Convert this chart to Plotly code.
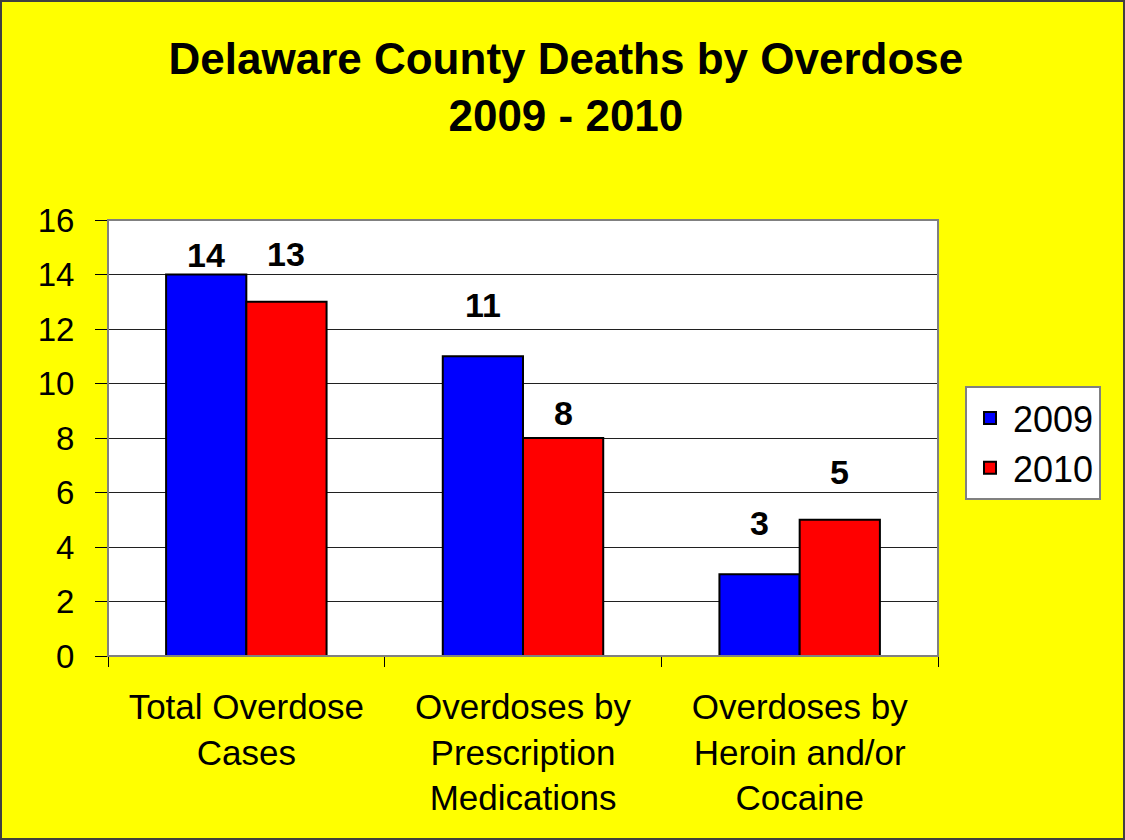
"""Delaware County overdose deaths, 2009 vs 2010, as a grouped bar chart."""

import plotly.graph_objects as go

# --- data -------------------------------------------------------------------
categories = [
    "Total Overdose<br>Cases",
    "Overdoses by<br>Prescription<br>Medications",
    "Overdoses by<br>Heroin and/or<br>Cocaine",
]
deaths_2009 = [14, 11, 3]
deaths_2010 = [13, 8, 5]
series_names = ["2009", "2010"]

# --- style --------------------------------------------------------------------
W, H = 1125, 840
L, R, T, B = 108, 187, 220, 184
PW, PH = W - L - R, H - T - B
FONT = "Liberation Sans, Arial, sans-serif"
YELLOW = "#FFFF00"
COLORS = ["#0000FF", "#FF0000"]
BARGAP = 0.42
bar_px = PW / len(categories) * (1 - BARGAP) / 2
# vertical lift of the value labels above each bar top (px), as in the source
label_lift = [[20, 51, 51], [48, 25, 48]]

fig = go.Figure()
for name, vals, color in zip(series_names, [deaths_2009, deaths_2010], COLORS):
    fig.add_trace(
        go.Bar(
            x=categories,
            y=vals,
            name=name,
            marker=dict(color=color, line=dict(color="black", width=2)),
        )
    )

# value labels
for s, vals in enumerate([deaths_2009, deaths_2010]):
    for i, v in enumerate(vals):
        fig.add_annotation(
            x=categories[i],
            y=v,
            text=f"<b>{v}</b>",
            showarrow=False,
            xshift=(s - 0.5) * bar_px,
            yshift=label_lift[s][i],
            yanchor="middle",
            font=dict(family=FONT, size=34, color="black"),
        )

# plot-area frame and outer chart border
fig.add_shape(type="rect", xref="paper", yref="paper", x0=0, x1=1, y0=0, y1=1,
              line=dict(color="#808080", width=2), layer="above")
fig.add_shape(type="rect", xref="paper", yref="paper",
              x0=-(L - 1) / PW, x1=(PW + R - 1) / PW,
              y0=-(B - 1) / PH, y1=(PH + T - 1) / PH,
              line=dict(color="#404040", width=2))

fig.update_layout(
    width=W,
    height=H,
    margin=dict(l=L, r=R, t=T, b=B, autoexpand=False),
    paper_bgcolor=YELLOW,
    plot_bgcolor="white",
    barmode="group",
    bargap=BARGAP,
    bargroupgap=0,
    font=dict(family=FONT, size=33, color="black"),
    title=dict(
        text="<b>Delaware County Deaths by Overdose<br>2009 - 2010</b>",
        x=0.503,
        xref="container",
        xanchor="center",
        y=1 - 74 / H,
        yref="container",
        yanchor="top",
        font=dict(family=FONT, size=44, color="black"),
    ),
    legend=dict(
        x=(965 - L) / PW,
        y=(PH + T - 386) / PH,
        xanchor="left",
        yanchor="top",
        bgcolor="white",
        bordercolor="#808080",
        borderwidth=2,
        itemwidth=36,
        font=dict(family=FONT, size=36),
    ),
    showlegend=True,
)

fig.update_yaxes(
    range=[0, 16],
    dtick=2,
    showgrid=True,
    gridcolor="#202020",
    gridwidth=1,
    zeroline=False,
    showline=True,
    linecolor="black",
    linewidth=1,
    ticks="outside",
    ticklen=12,
    tickcolor="black",
    ticklabelstandoff=14,
    tickfont=dict(size=33),
)
fig.update_xaxes(
    showline=True,
    linecolor="black",
    linewidth=1,
    ticks="outside",
    tickson="boundaries",
    ticklen=10,
    tickcolor="black",
    ticklabelstandoff=20,
    tickfont=dict(size=35),
)

fig.write_html(
    "out.html",
    config={"displayModeBar": False},
    post_script="document.body.style.margin = '0';",
)
